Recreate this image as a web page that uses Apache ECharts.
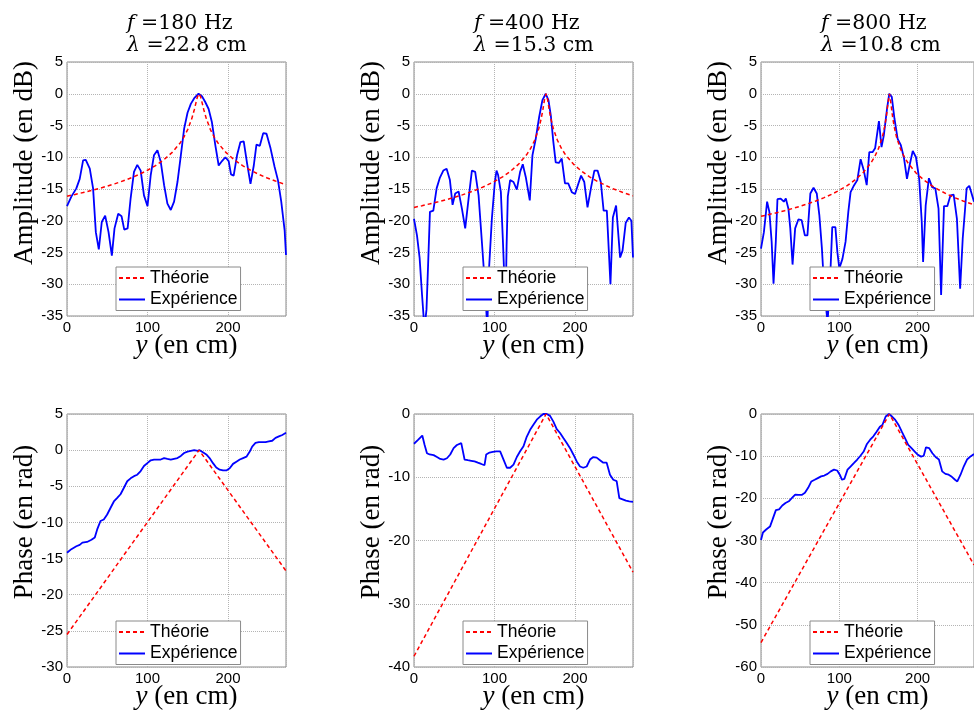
<!DOCTYPE html>
<html><head><meta charset="utf-8">
<script src="https://cdn.jsdelivr.net/npm/echarts@6/dist/echarts.min.js"></script>
<style>html,body{margin:0;padding:0;background:#fff}#c{width:974px;height:711px}</style>
</head><body><div id="c"></div><script>
// ---- data ----
const freqs = ['180', '400', '800'];
const lambdas = ['22.8', '15.3', '10.8'];
const xTicks = [0, 100, 200];
const xRange = [0, 272];
const ampRange = [-35, 5, 5];
const phase180Range = [-30, 5, 5];
const phase400Range = [-40, 0, 10];
const phase800Range = [-60, 0, 10];
const legendNames = ['Théorie', 'Expérience'];

const posTheory = [0,10,20,30,40,50,60,70,80,90,100,110,120,130,140,145,150,155,158,160,162,164,166,168,170,173,178,183,188,198,208,218,228,238,248,258,272];
const amp180Theory = [-16.13,-15.86,-15.56,-15.25,-14.91,-14.55,-14.15,-13.71,-13.23,-12.68,-12.05,-11.31,-10.43,-9.32,-7.84,-6.86,-5.61,-3.91,-2.56,-1.51,-0.48,0,-0.48,-1.51,-2.56,-3.91,-5.61,-6.86,-7.84,-9.32,-10.43,-11.31,-12.05,-12.68,-13.23,-13.71,-14.32];
const amp400Theory = [-17.90,-17.63,-17.33,-17.02,-16.68,-16.32,-15.92,-15.48,-15.00,-14.44,-13.81,-13.08,-12.19,-11.08,-9.58,-8.58,-7.29,-5.47,-3.92,-2.57,-0.97,0,-0.97,-2.57,-3.92,-5.47,-7.29,-8.58,-9.58,-11.08,-12.19,-13.08,-13.81,-14.44,-15.00,-15.48,-16.08];
const amp800Theory = [-19.30,-19.02,-18.73,-18.42,-18.08,-17.72,-17.32,-16.88,-16.39,-15.84,-15.21,-14.47,-13.58,-12.47,-10.96,-9.96,-8.65,-6.79,-5.14,-3.62,-1.59,0,-1.59,-3.62,-5.14,-6.79,-8.65,-9.96,-10.96,-12.47,-13.58,-14.47,-15.21,-15.84,-16.39,-16.88,-17.48];

const amp180Exp = [[0,-17.7],[5.4,-16.2],[11.6,-14.9],[15.8,-13.4],[20,-10.5],[23.3,-10.4],[28.3,-11.8],[32.4,-14.9],[35.8,-21.8],[39.5,-24.5],[43.2,-20.2],[47.4,-19.2],[51.6,-21.8],[55.7,-25.5],[59,-21.2],[63.6,-18.9],[67.8,-19.3],[71.1,-21.4],[75.3,-21.2],[79,-16.5],[83.2,-12.3],[87.3,-11.2],[91.5,-12.1],[95.6,-16],[100,-17.7],[104,-12.8],[108,-9.7],[112.3,-8.9],[116.4,-10.7],[120.6,-14.4],[124.7,-17.3],[128.9,-18.3],[133,-17],[137.2,-13.9],[141.4,-9.7],[145.5,-5.5],[149.7,-3.0],[153.8,-1.6],[158,-0.7],[163.4,0],[167.6,-0.4],[171.7,-1.3],[175.9,-2.4],[180,-4.5],[184.2,-8.1],[188.4,-11.3],[192.5,-10.6],[196.7,-10],[200.8,-10.6],[203.7,-12.7],[207,-12.9],[211.2,-9.7],[215.4,-7.6],[219.5,-7.5],[223.7,-11],[227.9,-14.2],[232,-11.3],[235.3,-8],[239.5,-8.2],[243.7,-6.2],[247.8,-6.3],[252.8,-8.6],[257.8,-11.5],[262,-13.6],[266.1,-17],[270.3,-21.5],[272,-25.4]];

const amp400Exp = [[0,-19.7],[3.7,-22.3],[7,-25.9],[10,-31.7],[13,-37],[15.5,-34],[17.5,-27],[19.8,-18.6],[24,-18.4],[28.1,-14.9],[32.2,-13.2],[36.4,-12.1],[40.5,-11.8],[44.6,-13.6],[47.9,-17.5],[51.2,-15.7],[55.4,-15.4],[59.5,-18.1],[63.6,-21.2],[67.8,-16.5],[71.9,-12.1],[76,-12.3],[80.2,-16],[84.3,-23.3],[88.4,-30.7],[91,-37],[93,-28],[96.7,-19.7],[100.4,-13.9],[102.5,-12.1],[104.5,-12.8],[107.9,-15.5],[110.3,-22.8],[112.5,-30],[113.8,-33],[115,-24],[116.5,-16.2],[119.4,-13.6],[123.6,-13.9],[127.7,-15.1],[131.8,-12.3],[135.1,-11.1],[138.8,-13.1],[143.8,-16.8],[147.1,-9.7],[151.2,-7.1],[155.4,-3.7],[159.5,-1.0],[163.6,0],[167,-1.0],[170,-3.5],[173,-7.5],[176,-10.8],[180,-10.9],[183.5,-10.2],[187.5,-14.1],[191.5,-14.1],[196,-15.5],[200,-15.8],[204,-14.2],[207.5,-12.9],[211.5,-13.9],[215.5,-17.9],[220,-14.7],[224,-12.1],[228,-12.1],[232,-13.9],[235.5,-18.4],[239.5,-18.4],[244,-30],[247,-19.5],[251,-17.6],[256,-25.8],[259,-24.7],[263,-20.3],[267,-19.5],[270,-20],[272,-25.8]];

const amp800Exp = [[0,-24.4],[3.7,-21.8],[7.8,-17],[10.7,-18.6],[13.6,-23.3],[16,-29.9],[18.9,-23.3],[21,-16.6],[25.1,-16.5],[29.2,-17],[31.7,-16.5],[35,-18.1],[37.4,-21.2],[40.3,-26.9],[43.6,-21.2],[47.7,-19.8],[51.9,-19.9],[56,-22.3],[59.3,-22.3],[63,-15.7],[67.1,-14.8],[71.2,-15.7],[74.5,-19.1],[77.8,-24.4],[80.7,-30.7],[85,-36],[88,-30],[91,-21],[95,-21],[97.5,-24.9],[100,-27.5],[104,-26],[108,-23.3],[111.5,-18.6],[114.4,-15.5],[118.9,-14.4],[123,-13.6],[127.2,-10.3],[131.3,-12.1],[135,-14.4],[138.3,-9.2],[142.4,-9.2],[145.7,-8.6],[150.6,-4.3],[153.9,-8.4],[156.8,-6.6],[160.9,-2.4],[163.8,0],[167,-0.5],[170.4,-3.9],[174.5,-7.1],[178.6,-8.1],[182.7,-10.2],[186.4,-13.4],[189.7,-11.3],[193.8,-9.0],[197.9,-10],[202,-13.4],[205.3,-20.2],[207,-26.5],[210.3,-17.6],[214.4,-13.3],[218.5,-14.7],[222.6,-14.9],[226.7,-18.1],[230,-31.7],[233.7,-17.7],[237.9,-17.7],[242,-16],[246,-15.9],[250.2,-19.7],[254.3,-30.7],[257.6,-22.8],[260.5,-18.3],[262.6,-14.9],[266,-14.5],[272,-17]];

const phase180Theory = [[0,-25.5],[164,0],[272,-16.7]];
const phase400Theory = [[0,-38.3],[164,0],[272,-25.0]];
const phase800Theory = [[0,-54.2],[164,0],[272,-35.8]];

const phase180Exp = [[0,-14.2],[5.4,-13.7],[11.6,-13.3],[15.8,-13.1],[19.1,-12.8],[24.9,-12.7],[30.4,-12.4],[34.5,-12.1],[37.4,-11.0],[41.6,-9.8],[45.7,-9.6],[49.9,-8.9],[54,-8.0],[58.2,-7.1],[62.4,-6.6],[66.5,-6.1],[70.7,-5.2],[74.8,-4.3],[79,-3.9],[83.2,-3.6],[87.3,-3.4],[91.5,-2.9],[95.6,-2.2],[99.8,-1.8],[104,-1.4],[108.1,-1.3],[112.3,-1.3],[116.4,-1.3],[120.6,-1.1],[124.7,-1.2],[128.9,-1.3],[133,-1.2],[137.2,-1.1],[141.4,-0.8],[145.5,-0.4],[149.7,-0.2],[153.8,-0.1],[158,0],[162.2,-0.1],[164.7,0],[168.8,-0.3],[173,-0.6],[177.1,-1.1],[181.3,-1.8],[185.4,-2.4],[189.6,-2.7],[193.8,-2.8],[197.9,-2.8],[202.1,-2.5],[206.2,-1.9],[210.4,-1.6],[214.6,-1.3],[218.7,-1.1],[222.9,-0.9],[227,-0.2],[230,0.5],[234.1,1.0],[238.3,1.1],[242.4,1.1],[246.6,1.1],[250.7,1.2],[254.9,1.3],[259,1.7],[263.2,1.9],[267.4,2.1],[272,2.4]];

const phase400Exp = [[0,-4.7],[5,-4.1],[10.3,-3.4],[13.2,-4.9],[16.1,-6.2],[19.4,-6.4],[24.4,-6.5],[28.5,-6.8],[32.6,-7.1],[36.8,-7.2],[40.9,-7.0],[45,-6.4],[49.2,-5.4],[53.3,-4.9],[58.7,-4.6],[62.8,-7.2],[66.9,-7.3],[71.1,-7.4],[75.2,-7.5],[79.3,-7.7],[83.5,-7.9],[87.6,-8.1],[89.7,-6.4],[93.8,-6.1],[97.9,-6.0],[102.1,-5.9],[107,-5.9],[111.2,-7.2],[115.3,-8.5],[119.4,-8.5],[123.6,-8.0],[127.7,-6.8],[131.8,-5.9],[136,-5.1],[140,-3.6],[144.2,-2.5],[148.3,-1.7],[152.5,-0.9],[156.6,-0.4],[160.7,0],[164.9,0],[169,-0.3],[173.1,-1.2],[177.3,-2.4],[181.4,-3.0],[185.5,-3.8],[189.7,-4.6],[193.8,-5.4],[197.9,-6.4],[202.1,-7.5],[206.2,-8.3],[210.3,-8.5],[214.5,-8.3],[218.6,-7.2],[222.7,-6.8],[226.9,-6.9],[231,-7.3],[235.1,-7.7],[239.3,-7.7],[243.4,-9.6],[247.5,-10.4],[251.7,-10.6],[255,-13.3],[259.1,-13.5],[263.2,-13.7],[267.4,-13.8],[272,-13.9]];

const phase800Exp = [[0,-29.9],[2.5,-28.1],[6.6,-27.4],[11.5,-26.7],[14.8,-25],[19,-22.8],[23.1,-22.6],[27.2,-21.7],[31.3,-21.1],[35.5,-20.7],[39.6,-19.9],[43.7,-19.1],[47.8,-19.2],[52,-19.2],[56.1,-18.7],[60.2,-17.5],[64.3,-16.0],[68.5,-15.6],[72.6,-15.2],[76.7,-14.8],[80.8,-14.6],[85,-14.2],[89.1,-13.6],[93.2,-13.2],[97.3,-13.4],[100.6,-14.4],[103.5,-15.6],[106.4,-15.4],[110.5,-13.2],[114.6,-12.4],[118.8,-11.6],[122.9,-10.8],[127,-9.9],[131.1,-8.9],[135.3,-7.1],[139.4,-6.1],[143.5,-5.3],[147.6,-4.2],[151.8,-3.0],[155,-2.6],[159.2,-0.6],[163.3,0],[167.4,-0.6],[171.5,-1.4],[175.7,-2.6],[179.8,-4.2],[183.9,-5.7],[188,-7.3],[192.2,-8.1],[196.3,-8.9],[200.4,-9.7],[204.5,-10.1],[207.8,-9.9],[210.7,-7.9],[214.8,-8.1],[218.9,-9.3],[223,-10.2],[227.2,-10.8],[231.3,-13.6],[235.5,-14.2],[239.6,-14.4],[243.7,-14.9],[247.8,-15.6],[250.7,-16.0],[254.8,-14.4],[259,-12.4],[263.1,-10.8],[268,-10],[272,-9.5]];

// ---- layout & styling ----
const SERIF = '"Liberation Serif","DejaVu Serif",serif';
const TSERIF = '"DejaVu Serif","Liberation Serif",serif';
const SANS = '"Liberation Sans",Arial,sans-serif';
const colLeft = [67, 414, 761];
const rowTop = [62, 414];
const rowNameShift = [52, 37];
const rowLegendTop = [267, 621];
const plotW = 219, plotH = 254;

const panels = [
  {r:0, c:0, th: posTheory.map((x,i)=>[x, amp180Theory[i]]), ex: amp180Exp, yr: ampRange, yname: 'Amplitude (en dB)'},
  {r:0, c:1, th: posTheory.map((x,i)=>[x, amp400Theory[i]]), ex: amp400Exp, yr: ampRange, yname: 'Amplitude (en dB)'},
  {r:0, c:2, th: posTheory.map((x,i)=>[x, amp800Theory[i]]), ex: amp800Exp, yr: ampRange, yname: 'Amplitude (en dB)'},
  {r:1, c:0, th: phase180Theory, ex: phase180Exp, yr: phase180Range, yname: 'Phase (en rad)'},
  {r:1, c:1, th: phase400Theory, ex: phase400Exp, yr: phase400Range, yname: 'Phase (en rad)'},
  {r:1, c:2, th: phase800Theory, ex: phase800Exp, yr: phase800Range, yname: 'Phase (en rad)'}
];

const grid = [], xAxis = [], yAxis = [], series = [], legend = [], title = [];
const splitStyle = {show: true, lineStyle: {type: 'dotted', color: '#b4b4b4', width: 1}};
const labelStyle = {color: '#000', fontFamily: SANS, fontSize: 15, margin: 4};

panels.forEach((p, i) => {
  grid.push({left: colLeft[p.c], top: rowTop[p.r], width: plotW, height: plotH,
    show: true, borderColor: '#8a8a8a', borderWidth: 1, backgroundColor: '#fff'});
  xAxis.push({gridIndex: i, type: 'value', min: xRange[0], max: xRange[1], interval: 100,
    axisLine: {show: false}, axisTick: {show: false},
    axisLabel: Object.assign({showMaxLabel: false, formatter: v => xTicks.includes(v) ? String(v) : ''}, labelStyle),
    splitLine: splitStyle,
    name: '{i|y} (en cm)', nameLocation: 'middle', nameGap: 16, nameMoveOverlap: false,
    nameTextStyle: {fontFamily: SERIF, fontSize: 27, color: '#000', padding: [0, 0, 0, 20],
      rich: {i: {fontFamily: SERIF, fontSize: 27, fontStyle: 'italic', color: '#000'}}}});
  yAxis.push({gridIndex: i, type: 'value', min: p.yr[0], max: p.yr[1], interval: p.yr[2],
    axisLine: {show: false}, axisTick: {show: false},
    axisLabel: labelStyle, splitLine: splitStyle,
    name: p.yname, nameLocation: 'middle', nameGap: 29, nameMoveOverlap: false,
    nameTextStyle: {fontFamily: SERIF, fontSize: 27, color: '#000', padding: [0, 0, 0, rowNameShift[p.r]]}});
  series.push({type: 'line', name: legendNames[1], xAxisIndex: i, yAxisIndex: i, data: p.ex,
    symbol: 'none', showSymbol: false, clip: true, z: 2,
    lineStyle: {color: '#0000ff', width: 1.8}, itemStyle: {color: '#0000ff'}});
  series.push({type: 'line', name: legendNames[0], xAxisIndex: i, yAxisIndex: i, data: p.th,
    symbol: 'none', showSymbol: false, clip: true, z: 3,
    lineStyle: {color: '#ff0000', width: 1.5, type: [4, 3]}, itemStyle: {color: '#ff0000'}});
  legend.push({left: colLeft[p.c] + 49, top: rowLegendTop[p.r], orient: 'vertical',
    data: legendNames, selectedMode: false, padding: [2, 3, 2, 2], itemGap: 3.5,
    itemWidth: 26, itemHeight: 14, borderColor: '#8a8a8a', borderWidth: 1, borderRadius: 0,
    backgroundColor: '#fff', itemStyle: {opacity: 0, borderWidth: 0},
    textStyle: {fontFamily: SANS, fontSize: 17.5, color: '#000'}});
});

freqs.forEach((f, c) => {
  title.push({left: colLeft[c] + 60, top: 13, padding: 0,
    text: '{i|f} =' + f + ' Hz\n{i|λ} =' + lambdas[c] + ' cm',
    textStyle: {fontFamily: TSERIF, fontSize: 20.5, fontWeight: 'normal', color: '#000', lineHeight: 21.5,
      rich: {i: {fontFamily: TSERIF, fontSize: 20.5, fontStyle: 'italic', color: '#000', lineHeight: 21.5}}}});
});

const chart = echarts.init(document.getElementById('c'), null, {renderer: 'canvas'});
chart.setOption({animation: false, backgroundColor: '#fff', title, grid, xAxis, yAxis, series, legend,
  tooltip: {show: false}});
</script></body></html>
